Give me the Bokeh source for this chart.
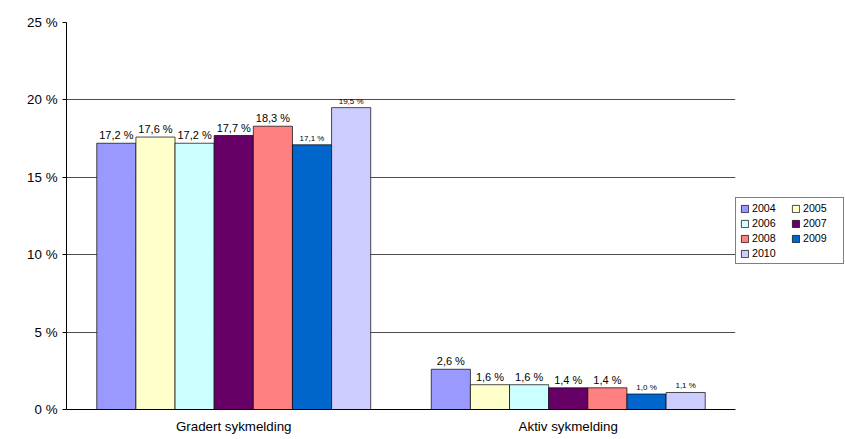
from bokeh.plotting import figure
from bokeh.models import ColumnDataSource, Legend, LegendItem, FixedTicker
from bokeh.transform import dodge
from bokeh.core.properties import value
from bokeh.embed import file_html
from bokeh.resources import INLINE

categories = ["Gradert sykmelding", "Aktiv sykmelding"]
years = ["2004", "2005", "2006", "2007", "2008", "2009", "2010"]
gradert = [17.2, 17.6, 17.2, 17.7, 18.3, 17.1, 19.5]
aktiv = [2.6, 1.6, 1.6, 1.4, 1.4, 1.0, 1.1]
colors = ["#9999FF", "#FFFFCC", "#CCFFFF", "#660066", "#FF8080", "#0066CC", "#CCCCFF"]
small_label = [[False, False, False, False, False, True, True],
               [False, False, False, False, False, True, True]]

p = figure(x_range=categories, y_range=(0, 25), frame_width=669, frame_height=387,
           output_backend="svg", toolbar_location=None,
           min_border_left=66, min_border_top=22, min_border_bottom=22, min_border_right=0)
p.outline_line_color = None
w = 0.117
items = {}
for i, y in enumerate(years):
    vals = [gradert[i], aktiv[i]]
    src = ColumnDataSource(dict(
        x=categories, top=vals,
        lab=[f"{v:.1f} %".replace(".", ",") for v in vals],
        size=["8px" if s[i] else "11px" for s in small_label]))
    off = (i - 3) * w
    r = p.vbar(x=dodge("x", off, range=p.x_range), top="top", width=w, source=src,
               fill_color=colors[i], line_color="black", line_width=0.7)
    p.text(x=dodge("x", off, range=p.x_range), y="top", text="lab", source=src,
           text_font_size="size", text_align="center", text_baseline="bottom",
           y_offset=-2, text_font=value("Liberation Sans"), text_color="black")
    items[y] = LegendItem(label=y, renderers=[r])

order = ["2004", "2006", "2008", "2010", "2005", "2007", "2009"]
legend = Legend(items=[items[k] for k in order], ncols=2, label_text_font="Liberation Sans",
                label_text_font_size="8pt", label_text_color="black",
                glyph_width=9, glyph_height=9, label_width=36,
                label_height=12, spacing=3, padding=4, margin=5,
                label_standoff=3, border_line_color="black", location=(0, 145))
p.add_layout(legend, "right")

p.yaxis.ticker = FixedTicker(ticks=[0, 5, 10, 15, 20, 25])
p.yaxis.major_label_overrides = {v: f"{v} %" for v in [0, 5, 10, 15, 20, 25]}
for ax in (p.xaxis, p.yaxis):
    ax.major_label_text_font = "Liberation Sans"
    ax.major_label_text_font_size = "10pt"
    ax.major_label_text_color = "black"
    ax.axis_line_color = "black"
    ax.major_tick_line_color = "black"
    ax.minor_tick_line_color = None
p.yaxis.major_tick_in = 0
p.yaxis.major_tick_out = 4
p.xaxis.major_tick_line_color = None
p.xaxis.major_label_standoff = 3
p.ygrid.grid_line_color = "black"
p.ygrid.grid_line_width = 0.7
p.xgrid.grid_line_color = None

open("out.html", "w").write(file_html(p, INLINE))
